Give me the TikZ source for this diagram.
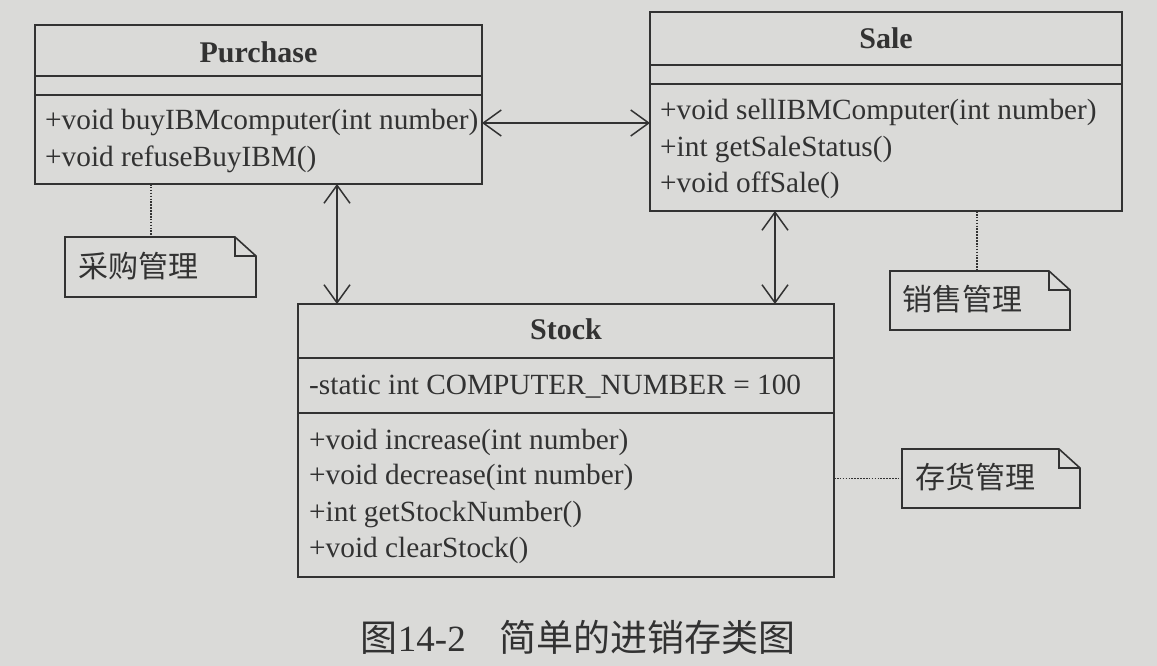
\documentclass[tikz,border=0pt]{standalone}
\usepackage{fontspec}
\setmainfont{Liberation Serif}
\newfontfamily\cjk{Noto Sans CJK SC}
\usetikzlibrary{arrows.meta}
\definecolor{paper}{RGB}{218,218,216}
\definecolor{ink}{RGB}{50,50,50}
\begin{document}
\begin{tikzpicture}[x=1pt,y=-1pt,
  line/.style={draw=ink, line width=1.6pt},
  classbox/.style={draw=ink, line width=1.6pt, anchor=north west, inner sep=0pt, outer sep=0pt},
  member/.style={anchor=west, inner sep=0pt, yshift=-3pt, text=ink, text height=20pt, text depth=7pt, font=\fontsize{29.3}{34}\selectfont},
  ctitle/.style={inner sep=0pt, text=ink, font=\fontsize{30}{34}\selectfont\bfseries},
  notebox/.style={anchor=north west, inner sep=0pt, outer sep=0pt},
  noteline/.style={draw=ink, line width=1.6pt, line join=miter},
  notetext/.style={anchor=west, inner sep=0pt, text=ink, font=\cjk\fontsize{30}{34}\selectfont},
  caption/.style={inner sep=0pt, text=ink, font=\fontsize{37}{40}\selectfont},
  assoc/.style={draw=ink, line width=1.5pt, {Straight Barb[length=18pt,width=26pt]}-{Straight Barb[length=18pt,width=26pt]}},
  dotline/.style={draw=ink, line width=1.6pt, dash pattern=on 1.6pt off 1.3pt},
]
\fill[paper] (0,0) rectangle (1157,666);
\useasboundingbox (0,0) rectangle (1157,666);

% ---------- Purchase ----------
\node[classbox, minimum width=447pt, minimum height=159pt] (purchase) at (35,25) {};
\draw[line] ([yshift=-51pt]purchase.north west) -- ([yshift=-51pt]purchase.north east);
\draw[line] ([yshift=-70pt]purchase.north west) -- ([yshift=-70pt]purchase.north east);
\node[ctitle] (ptitle) at ([yshift=-27pt]purchase.north) {Purchase};
\node[member] (p1) at (45,120) {+void buyIBMcomputer(int number)};
\node[member] (p2) at (45,157) {+void refuseBuyIBM()};

% ---------- Sale ----------
\node[classbox, minimum width=472pt, minimum height=199pt] (sale) at (650,12) {};
\draw[line] ([yshift=-53pt]sale.north west) -- ([yshift=-53pt]sale.north east);
\draw[line] ([yshift=-72pt]sale.north west) -- ([yshift=-72pt]sale.north east);
\node[ctitle] (stitle) at ([yshift=-26pt]sale.north) {Sale};
\node[member] (s1) at (660,110) {+void sellIBMComputer(int number)};
\node[member] (s2) at (660,147) {+int getSaleStatus()};
\node[member] (s3) at (660,183) {+void offSale()};

% ---------- Stock ----------
\node[classbox, minimum width=536pt, minimum height=273pt] (stock) at (298,304) {};
\draw[line] ([yshift=-54pt]stock.north west) -- ([yshift=-54pt]stock.north east);
\draw[line] ([yshift=-109pt]stock.north west) -- ([yshift=-109pt]stock.north east);
\node[ctitle] (ktitle) at ([yshift=-25pt]stock.north) {Stock};
\node[member] (ka) at (309,385) {-static int COMPUTER\_NUMBER = 100};
\node[member] (k1) at (309,440) {+void increase(int number)};
\node[member] (k2) at (309,475) {+void decrease(int number)};
\node[member] (k3) at (309,512) {+int getStockNumber()};
\node[member] (k4) at (309,548) {+void clearStock()};

% ---------- Notes ----------
\node[notebox, minimum width=191pt, minimum height=60pt] (n1) at (65,237) {};
\node[notebox, minimum width=180pt, minimum height=59pt] (n2) at (890,271) {};
\node[notebox, minimum width=178pt, minimum height=59pt] (n3) at (902,449) {};
\foreach \n in {n1,n2,n3}{
  \draw[noteline] (\n.south west) -- (\n.north west) -- ([xshift=-21pt]\n.north east)
     -- ([yshift=-19pt]\n.north east) -- (\n.south east) -- cycle;
  \draw[noteline] ([xshift=-21pt]\n.north east) |- ([yshift=-19pt]\n.north east);
}
\node[notetext] (t1) at ([xshift=13pt,yshift=1pt]n1.west) {采购管理};
\node[notetext] (t2) at ([xshift=12pt,yshift=1pt]n2.west) {销售管理};
\node[notetext] (t3) at ([xshift=13pt,yshift=1pt]n3.west) {存货管理};

% ---------- Connectors ----------
\draw[assoc] (p1 -| purchase.east) -- (p1 -| sale.west);
\draw[assoc] ([xshift=78.5pt]purchase.south) -- ([xshift=78.5pt]purchase.south |- stock.north);
\draw[assoc] ([xshift=-111pt]sale.south) -- ([xshift=-111pt]sale.south |- stock.north);
\draw[dotline] ([xshift=-9.5pt]n1.north |- purchase.south) -- ([xshift=-9.5pt]n1.north);
\draw[dotline] ([xshift=-3pt]n2.north |- sale.south) -- ([xshift=-3pt]n2.north);
\draw[dotline] (stock.east |- n3.west) -- (n3.west);

% ---------- Caption ----------
\node[caption] (cap) at (578,637) {{\cjk 图}14-2\hspace{0.9em}{\cjk 简单的进销存类图}};
\end{tikzpicture}
\end{document}
